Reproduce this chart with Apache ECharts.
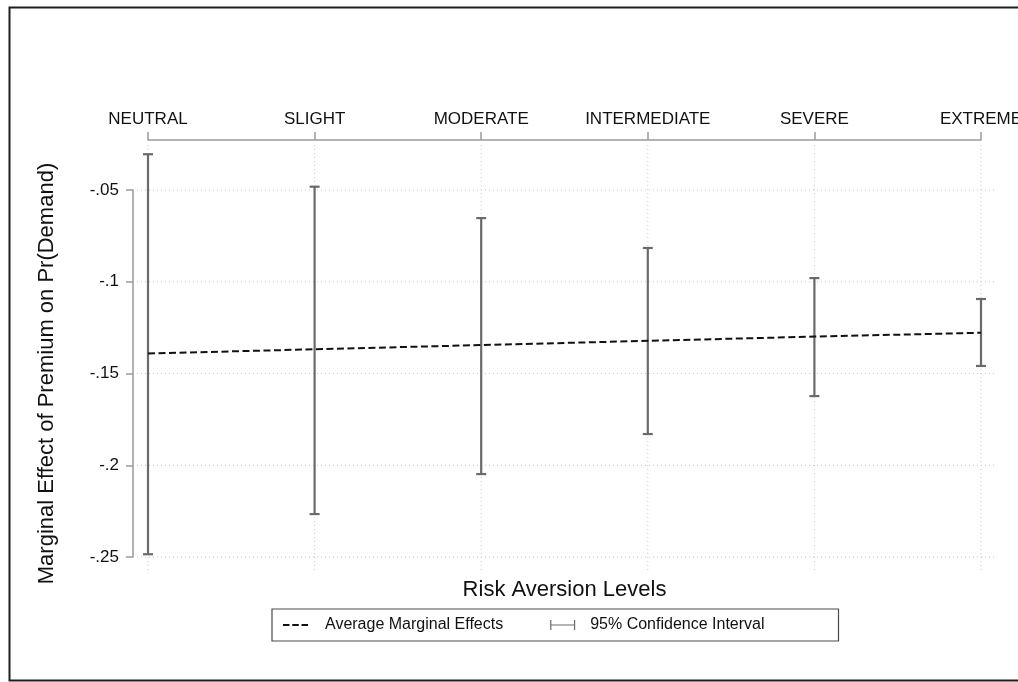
<!DOCTYPE html>
<html>
<head>
<meta charset="utf-8">
<script src="https://cdn.jsdelivr.net/npm/echarts@6/dist/echarts.min.js"></script>
<style>
  html, body { margin: 0; padding: 0; background: #fff; overflow: hidden; }
  #chart { width: 1018px; height: 682px; }
</style>
</head>
<body>
<div id="chart"></div>
<script>
// Risk aversion categories along the top axis
const levels = ['NEUTRAL', 'SLIGHT', 'MODERATE', 'INTERMEDIATE', 'SEVERE', 'EXTREME'];
// Average marginal effect of the premium on Pr(Demand)
const ame = [-0.1391, -0.1368, -0.1345, -0.1322, -0.1299, -0.1278];
// 95% confidence interval bounds
const ciLow = [-0.2485, -0.2266, -0.2048, -0.1830, -0.1623, -0.1459];
const ciHigh = [-0.0305, -0.0482, -0.0653, -0.0816, -0.0980, -0.1094];
// Y axis ticks and their labels
const yTicks = [-0.25, -0.2, -0.15, -0.1, -0.05];
const yTickLabels = ['-.25', '-.2', '-.15', '-.1', '-.05'];

const FONT = '"Liberation Sans", Arial, Helvetica, sans-serif';
const AXIS_GREY = '#9a9a9a';
const BAR_GREY = '#6a6a6a';
const GRID_GREY = '#c8c8c8';

const chart = echarts.init(document.getElementById('chart'), null, { renderer: 'canvas' });

// Confidence interval whiskers: vertical line with caps at both ends
function renderCI(params, api) {
  const i = api.value(0);
  const lo = api.coord([i, api.value(1)]);
  const hi = api.coord([i, api.value(2)]);
  const half = 5;
  const style = { stroke: BAR_GREY, lineWidth: 2.2, fill: null };
  return {
    type: 'group',
    children: [
      { type: 'line', shape: { x1: lo[0], y1: lo[1], x2: hi[0], y2: hi[1] }, style },
      { type: 'line', shape: { x1: hi[0] - half, y1: hi[1], x2: hi[0] + half, y2: hi[1] }, style },
      { type: 'line', shape: { x1: lo[0] - half, y1: lo[1], x2: lo[0] + half, y2: lo[1] }, style }
    ]
  };
}

// Dotted reference lines that run a little past the axis range
const gridStyle = { stroke: GRID_GREY, lineWidth: 1, lineDash: [1, 3] };
function renderHGrid(params, api) {
  const v = api.value(1);
  const a = api.coord([0, v]);
  const b = api.coord([levels.length - 1, v]);
  return { type: 'line', shape: { x1: a[0] - 11, y1: a[1], x2: b[0] + 14, y2: a[1] }, style: gridStyle, silent: true };
}
function renderVGrid(params, api) {
  const i = api.value(0);
  const top = api.coord([i, yTicks[yTicks.length - 1]]);
  const bot = api.coord([i, yTicks[0]]);
  return { type: 'line', shape: { x1: top[0], y1: top[1] - 45, x2: top[0], y2: bot[1] + 15 }, style: gridStyle, silent: true };
}

const option = {
  backgroundColor: '#fff',
  animation: false,
  textStyle: { fontFamily: FONT },
  graphic: [{
    type: 'rect',
    shape: { x: 9.5, y: 7.5, width: 1040, height: 673 },
    style: { fill: null, stroke: '#1e1e1e', lineWidth: 2 },
    silent: true, z: -10
  }],
  grid: { left: 148, right: 37, top: 190, bottom: 125, containLabel: false, outerBoundsMode: 'none' },
  xAxis: [{
    type: 'category',
    data: levels,
    position: 'top',
    offset: 50,
    boundaryGap: false,
    axisLine: { show: true, lineStyle: { color: AXIS_GREY, width: 1.5 } },
    axisTick: { show: true, length: 8, inside: false, alignWithLabel: true, lineStyle: { color: AXIS_GREY, width: 1.5 } },
    axisLabel: { show: true, color: '#111', fontSize: 17, fontFamily: FONT, margin: 12, interval: 0, showMaxLabel: true, hideOverlap: false },
    splitLine: { show: false }
  }, {
    type: 'category',
    data: levels,
    position: 'bottom',
    boundaryGap: false,
    axisLine: { show: false },
    axisTick: { show: false },
    axisLabel: { show: false },
    splitLine: { show: false },
    name: 'Risk Aversion Levels',
    nameLocation: 'middle',
    nameGap: 22,
    nameTextStyle: { color: '#111', fontSize: 22, fontFamily: FONT }
  }],
  yAxis: {
    type: 'value',
    min: -0.25,
    max: -0.05,
    interval: 0.05,
    offset: 15,
    axisLine: { show: true, lineStyle: { color: AXIS_GREY, width: 1.5 } },
    axisTick: { show: true, length: 7, lineStyle: { color: AXIS_GREY, width: 1.5 } },
    axisLabel: {
      color: '#111', fontSize: 17, fontFamily: FONT, margin: 14,
      formatter: v => {
        const k = yTicks.findIndex(t => Math.abs(t - v) < 1e-9);
        return k >= 0 ? yTickLabels[k] : '';
      }
    },
    splitLine: { show: false },
    name: 'Marginal Effect of Premium on Pr(Demand)',
    nameLocation: 'middle',
    nameGap: 75,
    nameRotate: 90,
    nameTextStyle: { color: '#111', fontSize: 22, fontFamily: FONT }
  },
  legend: {
    left: 272,
    top: 609,
    orient: 'horizontal',
    padding: [8, 74, 8, 11],
    itemGap: 47,
    itemWidth: 25,
    itemHeight: 10,
    borderColor: '#4a4a4a',
    borderWidth: 1.2,
    selectedMode: false,
    formatter: name => (name === 'Average Marginal Effects' ? '{a|' + name + '}' : '{b|' + name + '}'),
    textStyle: {
      fontSize: 16, color: '#111', fontFamily: FONT,
      rich: {
        a: { fontSize: 16, color: '#111', fontFamily: FONT, padding: [0, 0, 0, 12] },
        b: { fontSize: 16, color: '#111', fontFamily: FONT, padding: [0, 0, 0, 10] }
      }
    },
    data: [
      {
        name: 'Average Marginal Effects',
        icon: 'path://M0,4.1H6.5V5.9H0Z M9.25,4.1H15.75V5.9H9.25Z M18.5,4.1H25V5.9H18.5Z M0,0H0.01V10H0Z',
        itemStyle: { color: '#111' }
      },
      {
        name: '95% Confidence Interval',
        icon: 'path://M0,0H1.2V10H0Z M0,4.4H25V5.6H0Z M23.8,0H25V10H23.8Z',
        itemStyle: { color: BAR_GREY }
      }
    ]
  },
  series: [
    {
      type: 'custom',
      name: 'hgrid',
      renderItem: renderHGrid,
      data: yTicks.map(v => [0, v]),
      clip: false,
      silent: true,
      z: 0
    },
    {
      type: 'custom',
      name: 'vgrid',
      renderItem: renderVGrid,
      data: levels.map((c, i) => [i, yTicks[0]]),
      clip: false,
      silent: true,
      z: 0
    },
    {
      type: 'custom',
      name: '95% Confidence Interval',
      renderItem: renderCI,
      data: levels.map((c, i) => [i, ciLow[i], ciHigh[i]]),
      itemStyle: { color: BAR_GREY },
      encode: { x: 0, y: [1, 2] },
      clip: false,
      z: 3
    },
    {
      type: 'line',
      name: 'Average Marginal Effects',
      data: ame,
      symbol: 'none',
      showSymbol: false,
      itemStyle: { color: '#111' },
      lineStyle: { color: '#111', width: 2, type: [7, 3.5] },
      z: 4
    }
  ]
};

chart.setOption(option);
</script>
</body>
</html>
